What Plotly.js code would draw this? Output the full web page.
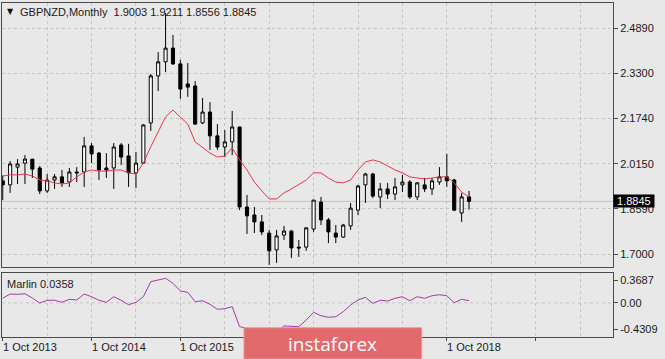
<!DOCTYPE html>
<html>
<head>
<meta charset="utf-8">
<script src="https://cdn.plot.ly/plotly-3.0.1.min.js"></script>
<style>html,body{margin:0;padding:0;background:#E8E8E8;}#chart{width:665px;height:359px;}</style>
</head>
<body>
<div id="chart"></div>
<script>
const symbolName = 'GBPNZD,Monthly';
const months = ['2013-10','2013-11','2013-12','2014-01','2014-02','2014-03','2014-04','2014-05','2014-06','2014-07','2014-08','2014-09',
 '2014-10','2014-11','2014-12','2015-01','2015-02','2015-03','2015-04','2015-05','2015-06','2015-07','2015-08','2015-09',
 '2015-10','2015-11','2015-12','2016-01','2016-02','2016-03','2016-04','2016-05','2016-06','2016-07','2016-08','2016-09',
 '2016-10','2016-11','2016-12','2017-01','2017-02','2017-03','2017-04','2017-05','2017-06','2017-07','2017-08','2017-09',
 '2017-10','2017-11','2017-12','2018-01','2018-02','2018-03','2018-04','2018-05','2018-06','2018-07','2018-08','2018-09',
 '2018-10','2018-11','2018-12','2019-01'];
const openP = [1.956,1.942,2.004,2.018,2.032,2.001,1.921,1.959,1.970,1.952,1.987,1.987,2.078,2.053,2.001,2.001,2.081,2.043,1.984,2.018,
 2.158,2.322,2.371,2.419,2.364,2.294,2.287,2.158,2.196,2.113,2.074,2.092,2.144,1.865,1.837,1.813,1.774,1.715,1.767,1.781,
 1.725,1.725,1.788,1.882,1.820,1.774,1.760,1.799,1.854,1.942,1.980,1.900,1.928,1.910,1.942,1.952,1.900,1.942,1.928,1.952,
 1.970,1.959,1.844,1.9003];
const highP = [1.975,2.025,2.032,2.046,2.032,2.008,1.980,1.980,1.994,2.001,2.004,2.109,2.088,2.057,2.053,2.088,2.088,2.085,2.057,2.154,
 2.329,2.405,2.541,2.465,2.378,2.367,2.304,2.245,2.231,2.154,2.133,2.200,2.144,1.907,1.865,1.837,1.785,1.785,1.799,1.785,
 1.750,1.795,1.889,1.900,1.827,1.802,1.806,1.879,1.942,1.984,1.984,1.949,1.949,1.966,1.977,1.959,1.952,1.966,1.966,2.004,
 2.050,1.963,1.914,1.9211];
const lowP = [1.889,1.914,1.945,1.945,1.966,1.910,1.914,1.928,1.935,1.935,1.952,1.935,2.018,1.959,1.966,1.928,2.011,1.935,1.931,2.015,
 2.130,2.269,2.336,2.360,2.242,2.249,2.151,2.154,2.064,2.064,2.039,2.046,1.854,1.771,1.774,1.767,1.663,1.670,1.750,1.687,
 1.691,1.712,1.778,1.802,1.739,1.739,1.757,1.785,1.837,1.879,1.896,1.861,1.893,1.889,1.917,1.893,1.889,1.917,1.907,1.942,
 1.935,1.851,1.813,1.8556];
const closeP = [1.942,2.015,2.015,2.032,1.997,1.921,1.959,1.970,1.949,1.987,1.984,2.078,2.050,1.994,1.994,2.074,2.039,1.984,2.018,2.151,
 2.322,2.371,2.419,2.364,2.276,2.283,2.154,2.196,2.113,2.074,2.092,2.144,1.865,1.834,1.813,1.778,1.712,1.764,1.781,1.722,
 1.722,1.792,1.889,1.820,1.778,1.760,1.802,1.861,1.938,1.980,1.903,1.928,1.910,1.935,1.952,1.900,1.949,1.928,1.956,1.970,
 1.956,1.854,1.900,1.8845];
const maLine = [1.973,1.977,1.977,1.980,1.973,1.959,1.956,1.949,1.945,1.949,1.970,1.987,1.994,1.990,1.990,1.994,1.994,1.984,1.980,2.018,
 2.075,2.126,2.179,2.203,2.179,2.154,2.092,2.071,2.053,2.039,2.043,2.071,2.029,1.994,1.952,1.921,1.893,1.893,1.914,1.928,
 1.942,1.959,1.984,1.984,1.966,1.952,1.949,1.959,1.994,2.022,2.029,2.022,2.008,1.994,1.984,1.970,1.966,1.963,1.966,1.970,
 1.970,1.949,1.917,1.900];
const marlin = [0.076,0.146,0.141,0.151,0.081,-0.002,0.043,0.043,0.010,0.059,0.048,0.146,0.102,0.043,0.010,0.102,0.043,-0.030,0.010,0.102,
 0.349,0.377,0.405,0.322,0.196,0.174,0.020,0.036,-0.023,-0.105,-0.095,-0.063,-0.391,-0.418,-0.46,-0.50,-0.52,-0.48,-0.380,-0.391,
 -0.391,-0.281,-0.155,-0.211,-0.237,-0.227,-0.145,-0.035,0.048,0.092,-0.007,0.043,0.031,0.076,0.102,0.036,0.102,0.076,0.118,0.135,
 0.118,0.003,0.059,0.0358];
const priceTicks = [1.7000,1.8590,2.0150,2.1740,2.3300,2.4890];
const priceTickText = ['1.7000','1.8590','2.0150','2.1740','2.3300','2.4890'];
const marlinTicks = [0.3687,0.00,-0.4309];
const marlinTickText = ['0.3687','0.00','-0.4309'];
const dateLabels = ['1 Oct 2013','1 Oct 2014','1 Oct 2015','1 Oct 2018'];
const dateLabelMonths = ['2013-10','2014-10','2015-10','2018-10'];

const xi = months.map((m, i) => i);
const last = months.length - 1;
const FONT = 'Liberation Sans, Arial, sans-serif';
const GRID = '#C4C4C4';
const FRAME = '#4a4a4a';

const traces = [
  {type:'candlestick', x:xi, open:openP, high:highP, low:lowP, close:closeP, xaxis:'x2', yaxis:'y',
   increasing:{line:{color:'#000000', width:1}, fillcolor:'#FFFFFF'},
   decreasing:{line:{color:'#000000', width:1}, fillcolor:'#000000'},
   whiskerwidth:0, hoverinfo:'skip'},
  {type:'scatter', mode:'lines', x:xi, y:maLine, xaxis:'x2', yaxis:'y',
   line:{color:'#E8334F', width:1}, hoverinfo:'skip'},
  {type:'scatter', mode:'lines', x:xi, y:marlin, xaxis:'x', yaxis:'y2',
   line:{color:'#A63AA6', width:1}, hoverinfo:'skip'}
];

const xCommon = {range:[-0.1, 82.45], tickmode:'linear', tick0:0, dtick:12,
  showgrid:true, gridcolor:GRID, griddash:'3px,3px', gridwidth:1,
  minor:{tickmode:'linear', tick0:0, dtick:6, showgrid:true, gridcolor:GRID, griddash:'3px,3px', gridwidth:1},
  showline:true, linecolor:FRAME, linewidth:1, mirror:true, zeroline:false,
  rangeslider:{visible:false}, fixedrange:true};

const annotations = [
  {xref:'paper', yref:'paper', x:0.0139, y:0.9746, xanchor:'center', yanchor:'middle', text:'▼', showarrow:false,
   font:{family:'DejaVu Sans', size:8, color:'#111'}},
  {xref:'paper', yref:'paper', x:0.0262, y:0.9735, xanchor:'left', yanchor:'middle', showarrow:false,
   text: symbolName + '\u00a0\u00a0' + [openP[last], highP[last], lowP[last], closeP[last]].map(v => v.toFixed(4)).join(' '),
   font:{family:FONT, size:11, color:'#1a1a1a'}},
  {xref:'paper', yref:'paper', x:0.005, y:(337-284)/334, xanchor:'left', yanchor:'middle', showarrow:false,
   text:'Marlin ' + marlin[last].toFixed(4), font:{family:FONT, size:11, color:'#1a1a1a'}},
  {xref:'paper', yref:'y', x:1, y:closeP[last], xanchor:'left', yanchor:'middle', showarrow:false,
   text:'\u00a0' + closeP[last].toFixed(4) + '\u00a0', bgcolor:'#000000', borderpad:0,
   font:{family:FONT, size:11, color:'#FFFFFF'}}
];
dateLabels.forEach((t, k) => {
  annotations.push({xref:'x', yref:'paper', x:months.indexOf(dateLabelMonths[k]), y:-0.029, xanchor:'left', yanchor:'middle',
    xshift:-2, showarrow:false, text:t, font:{family:FONT, size:11, color:'#1a1a1a'}});
});
annotations.push({xref:'paper', yref:'paper', x:0.5417, y:-0.0195, xanchor:'center', yanchor:'middle', showarrow:false,
  text:'instaforex', font:{family:'Open Sans, sans-serif', size:19, color:'#FFFFFF'}});

const layout = {
  width:665, height:359,
  paper_bgcolor:'#E8E8E8', plot_bgcolor:'#E8E8E8',
  margin:{l:2, r:52, t:3, b:22, pad:0},
  showlegend:false,
  font:{family:FONT, size:11, color:'#1a1a1a'},
  boxgap:0.4,
  xaxis: Object.assign({}, xCommon, {anchor:'y2', domain:[0,1], ticks:'outside', ticklen:3, tickcolor:FRAME, showticklabels:false}),
  xaxis2: Object.assign({}, xCommon, {anchor:'y', domain:[0,1], matches:'x', ticks:'', showticklabels:false}),
  yaxis: {domain:[0.2096,1], range:[1.6557,2.5763], side:'right', tickmode:'array', tickvals:priceTicks, ticktext:priceTickText,
    ticks:'outside', ticklen:4, tickcolor:FRAME, showgrid:true, gridcolor:GRID, griddash:'3px,3px',
    showline:true, linecolor:FRAME, linewidth:1, mirror:true, zeroline:false, fixedrange:true,
    tickfont:{family:FONT, size:11, color:'#1a1a1a'}},
  yaxis2: {domain:[0,0.1916], range:[-0.561,0.492], side:'right', tickmode:'array', tickvals:marlinTicks, ticktext:marlinTickText,
    ticks:'outside', ticklen:4, tickcolor:FRAME, showgrid:false,
    showline:true, linecolor:FRAME, linewidth:1, mirror:true, zeroline:false, fixedrange:true,
    tickfont:{family:FONT, size:11, color:'#1a1a1a'}},
  shapes: [
    {type:'line', xref:'paper', yref:'y', x0:0, x1:1, y0:closeP[last], y1:closeP[last],
     line:{color:'#C2C2C2', width:1}, layer:'below'},
    {type:'line', xref:'paper', yref:'y2', x0:0, x1:1, y0:0, y1:0,
     line:{color:GRID, width:1, dash:'3px,3px'}, layer:'below'},
    {type:'rect', xref:'paper', yref:'paper', x0:0.396, x1:0.687, y0:-0.066, y1:0.0278,
     fillcolor:'#E36A6C', line:{width:1, color:'#EE9A9B'}, layer:'above'}
  ],
  annotations: annotations
};

Plotly.newPlot('chart', traces, layout, {displayModeBar:false, staticPlot:true});
</script>
</body>
</html>
